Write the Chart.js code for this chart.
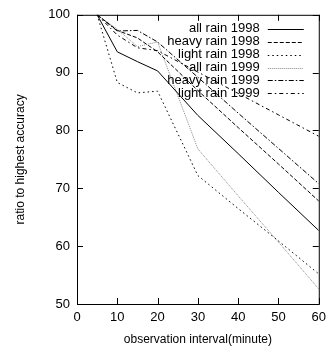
<!DOCTYPE html>
<html>
<head>
<meta charset="utf-8">
<script src="https://cdn.jsdelivr.net/npm/chart.js@4/dist/chart.umd.min.js"></script>
<style>
  html, body { margin: 0; padding: 0; background: #fff; }
  #wrap { width: 332px; height: 347px; }
</style>
</head>
<body>
<div id="wrap"><canvas id="chart" width="332" height="347"></canvas></div>
<script>
// observation interval (minute)
const intervals = [5, 10, 15, 20, 30, 40, 50, 60];

// ratio to highest accuracy (%)
const allRain1998   = [100, 93.6, 91.9, 90.3, 82.6, 76.0, 69.3, 62.7];
const heavyRain1998 = [100, 97.3, 96.0, 93.6, 86.9, 80.5, 74.2, 67.8];
const lightRain1998 = [100, 88.3, 86.5, 86.8, 72.2, 66.5, 60.9, 55.2];
const allRain1999   = [100, 97.5, 94.5, 95.3, 76.8, 68.7, 60.7, 52.6];
const heavyRain1999 = [100, 97.2, 97.3, 95.3, 89.2, 83.0, 76.9, 70.8];
const lightRain1999 = [100, 96.5, 94.3, 93.8, 90.1, 86.4, 82.7, 79.0];

const xTicks = [0, 10, 20, 30, 40, 50, 60];
const yTicks = [50, 60, 70, 80, 90, 100];

const FONT = '"Liberation Sans", Arial, sans-serif';

function points(values) {
  return values.map((v, i) => ({ x: intervals[i], y: v }));
}

function series(label, values, color, dash) {
  return {
    label: label,
    data: points(values),
    borderColor: color,
    borderWidth: 1,
    borderDash: dash,
    pointRadius: 0,
    fill: false,
    tension: 0
  };
}

// frame, inward ticks on all sides and the gnuplot style key
const framePlugin = {
  id: 'frame',
  afterDatasetsDraw(chart) {
    const ctx = chart.ctx;
    const a = chart.chartArea;
    const xs = chart.scales.x;
    const ys = chart.scales.y;
    ctx.save();
    ctx.strokeStyle = '#000';
    ctx.lineWidth = 1;
    ctx.setLineDash([]);
    ctx.strokeRect(a.left + 0.5, a.top + 0.5, a.right - a.left, a.bottom - a.top);
    ctx.beginPath();
    xTicks.forEach(t => {
      const px = Math.round(xs.getPixelForValue(t)) + 0.5;
      ctx.moveTo(px, a.bottom); ctx.lineTo(px, a.bottom - 6);
      ctx.moveTo(px, a.top); ctx.lineTo(px, a.top + 6);
    });
    yTicks.forEach(t => {
      const py = Math.round(ys.getPixelForValue(t)) + 0.5;
      ctx.moveTo(a.left, py); ctx.lineTo(a.left + 6, py);
      ctx.moveTo(a.right, py); ctx.lineTo(a.right - 6, py);
    });
    ctx.stroke();

    // key
    ctx.font = '13px ' + FONT;
    ctx.textAlign = 'right';
    ctx.textBaseline = 'middle';
    chart.data.datasets.forEach((ds, i) => {
      const y = a.top + 14 + i * 12.9;
      ctx.fillStyle = '#000';
      ctx.fillText(ds.label, a.right - 59, y);
      ctx.strokeStyle = ds.borderColor;
      ctx.setLineDash(ds.borderDash || []);
      ctx.beginPath();
      ctx.moveTo(a.right - 51, Math.round(y) + 0.5);
      ctx.lineTo(a.right - 15, Math.round(y) + 0.5);
      ctx.stroke();
    });
    ctx.restore();
  }
};

new Chart(document.getElementById('chart'), {
  type: 'line',
  data: {
    datasets: [
      series('all rain 1998', allRain1998, '#000', []),
      series('heavy rain 1998', heavyRain1998, '#000', [4, 2]),
      series('light rain 1998', lightRain1998, '#000', [1.5, 3]),
      series('all rain 1999', allRain1999, '#888', [1, 1]),
      series('heavy rain 1999', heavyRain1999, '#000', [5, 2, 1.5, 2]),
      series('light rain 1999', lightRain1999, '#000', [4, 3, 1.5, 3])
    ]
  },
  options: {
    responsive: false,
    animation: false,
    layout: { padding: { top: 10, right: 12, left: 13, bottom: 0 } },
    plugins: {
      legend: { display: false },
      tooltip: { enabled: false }
    },
    scales: {
      x: {
        type: 'linear',
        min: 0,
        max: 60,
        afterFit: s => { s.height = 43; },
        afterBuildTicks: s => { s.ticks = xTicks.map(v => ({ value: v })); },
        grid: { display: false, drawTicks: false },
        border: { display: false },
        ticks: { color: '#000', padding: 6, maxRotation: 0, font: { family: FONT, size: 13 } },
        title: {
          display: true,
          text: 'observation interval(minute)',
          color: '#000',
          padding: { top: 1, bottom: 0 },
          font: { family: FONT, size: 12 }
        }
      },
      y: {
        type: 'linear',
        min: 50,
        max: 100,
        afterFit: s => { s.width = 64; },
        afterBuildTicks: s => { s.ticks = yTicks.map(v => ({ value: v })); },
        grid: { display: false, drawTicks: false },
        border: { display: false },
        ticks: { color: '#000', padding: 7, font: { family: FONT, size: 13 } },
        title: {
          display: true,
          text: 'ratio to highest accuracy',
          color: '#000',
          padding: { top: 0, bottom: 0 },
          font: { family: FONT, size: 12 }
        }
      }
    }
  },
  plugins: [framePlugin]
});
</script>
</body>
</html>
